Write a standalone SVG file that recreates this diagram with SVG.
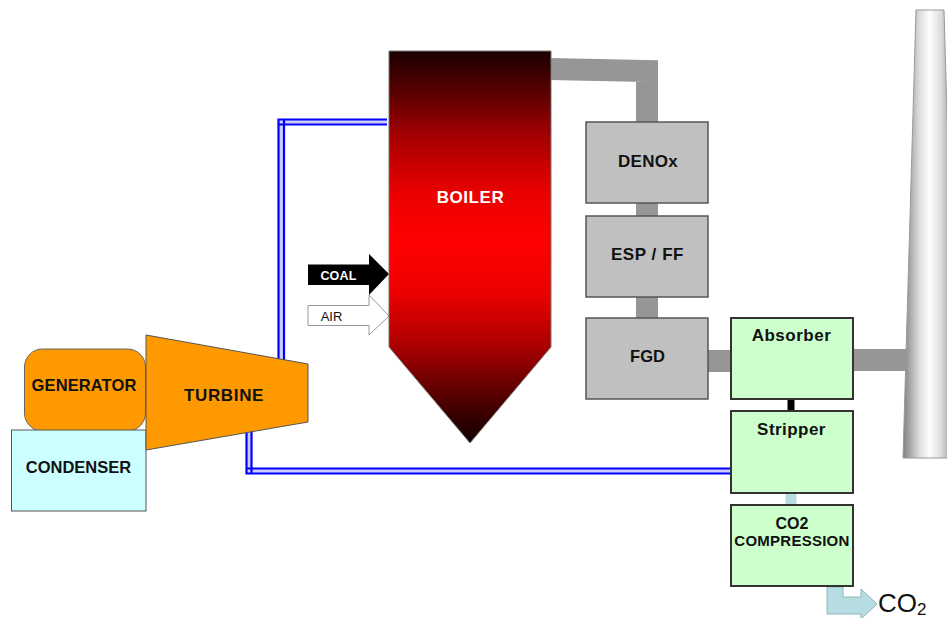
<svg xmlns="http://www.w3.org/2000/svg" width="947" height="618" viewBox="0 0 947 618">
<defs>
<linearGradient id="boilerGrad" x1="0" y1="0" x2="0" y2="1">
<stop offset="0" stop-color="#1a0000"/><stop offset="0.125" stop-color="#660000"/><stop offset="0.21" stop-color="#a00000"/><stop offset="0.296" stop-color="#cc0000"/><stop offset="0.372" stop-color="#ee0000"/><stop offset="0.49" stop-color="#ff0000"/><stop offset="0.61" stop-color="#ee0000"/><stop offset="0.71" stop-color="#c00000"/><stop offset="0.755" stop-color="#a80000"/><stop offset="0.84" stop-color="#700000"/><stop offset="0.916" stop-color="#400000"/><stop offset="1" stop-color="#100000"/>
</linearGradient>
<linearGradient id="stackGrad" x1="0" y1="0" x2="1" y2="0">
<stop offset="0" stop-color="#808080"/><stop offset="0.3" stop-color="#dcdcdc"/><stop offset="0.5" stop-color="#ffffff"/><stop offset="0.7" stop-color="#dcdcdc"/><stop offset="1" stop-color="#808080"/>
</linearGradient>
</defs>
<style>
text{font-family:"Liberation Sans",Arial,sans-serif;font-weight:bold;text-anchor:middle;fill:#111}
.grey{fill:#c0c0c0;stroke:#555;stroke-width:1.5}
.green{fill:#ccffcc;stroke:#333;stroke-width:2}
.duct{fill:none;stroke:#969696;stroke-width:22}
.blue{fill:none;stroke:#0000ff;stroke-width:2.2}
.band{fill:none;stroke:#ccccff;stroke-width:5}
</style>
<g id="connectors">
<path class="duct" d="M550 69L647 71V122"/>
<path class="duct" d="M647 203V216"/>
<path class="duct" d="M647 297V318"/>
<path class="duct" d="M708 361H731"/>
<path class="duct" d="M853 360H906"/>
<path d="M791 399V411" fill="none" stroke="#000" stroke-width="7"/>
<path d="M791 493V505" fill="none" stroke="#b7dde3" stroke-width="11"/>
<path class="band" d="M387 122H281V362"/>
<path class="blue" d="M387 119.500H278.500V362"/>
<path class="blue" d="M387 124.500H278.500M284 119.500V362"/>
<path class="band" d="M731 471H249V427"/>
<path class="blue" d="M731 468.500H246.500M251.500 474V427"/>
<path class="blue" d="M731 473.500H246.500V427"/>
<path id="co2-arrow" d="M827 587H843V597H861V589L877 604L861 619V614H827Z" fill="#b7dde3" stroke="#8fb8bf" stroke-width="1"/>
<path id="coal-arrow" d="M308 264.500H369V254L389 274L369 295V285H308Z" fill="#000"/>
<path id="air-arrow" d="M308 305.500H369V295L389 316L369 335V325.500H308Z" fill="#fff" stroke="#999" stroke-width="1"/>
</g>
<g id="stack"><path d="M916 10H944L957 458H903Z" fill="url(#stackGrad)" stroke="#999" stroke-width="1"/></g>
<g id="boiler">
<path d="M389 51H551V347L470 443L389 347Z" fill="url(#boilerGrad)" stroke="#777" stroke-width="1"/>
<text x="470.500" y="203" font-size="17" letter-spacing="0.550" style="fill:#fff">BOILER</text>
</g>
<g id="coal"><text x="338.500" y="280" font-size="12.500" letter-spacing="0.200" style="fill:#fff">COAL</text></g>
<g id="air"><text x="331.500" y="321" font-size="13" style="font-weight:normal">AIR</text></g>
<g id="generator">
<rect x="24.500" y="349" width="121" height="82" rx="18" fill="#ff9900" stroke="#666" stroke-width="1"/>
<text x="84" y="391" font-size="16.500" letter-spacing="0.100">GENERATOR</text>
</g>
<g id="condenser">
<rect x="11.500" y="430" width="134.500" height="81" fill="#ccffff" stroke="#555" stroke-width="1"/>
<text x="78.500" y="473" font-size="16.500">CONDENSER</text>
</g>
<g id="turbine">
<path d="M146 335L308 364V422L146 450Z" fill="#ff9900" stroke="#555" stroke-width="1"/>
<text x="224" y="401" font-size="17" letter-spacing="0.650">TURBINE</text>
</g>
<g id="denox"><rect class="grey" x="586" y="122" width="122" height="81"/><text x="648" y="167" font-size="17" letter-spacing="0.300">DENOx</text></g>
<g id="esp"><rect class="grey" x="586" y="216" width="122" height="81"/><text x="647.500" y="260" font-size="17" letter-spacing="0.550">ESP / FF</text></g>
<g id="fgd"><rect class="grey" x="586" y="318" width="122" height="81"/><text x="647.500" y="362" font-size="16.500">FGD</text></g>
<g id="absorber"><rect class="green" x="731" y="318" width="122" height="81"/><text x="791.500" y="341" font-size="17" letter-spacing="0.500">Absorber</text></g>
<g id="stripper"><rect class="green" x="731" y="411" width="122" height="82"/><text x="791.500" y="435" font-size="17" letter-spacing="0.450">Stripper</text></g>
<g id="compression"><rect class="green" x="731" y="505" width="122" height="81"/><text x="792" y="529" font-size="16">CO2</text><text x="792" y="546" font-size="15" letter-spacing="0.250">COMPRESSION</text></g>
<g id="co2"><text x="878" y="612" font-size="26" style="font-weight:normal;text-anchor:start">CO<tspan font-size="17" dy="3">2</tspan></text></g>
</svg>
